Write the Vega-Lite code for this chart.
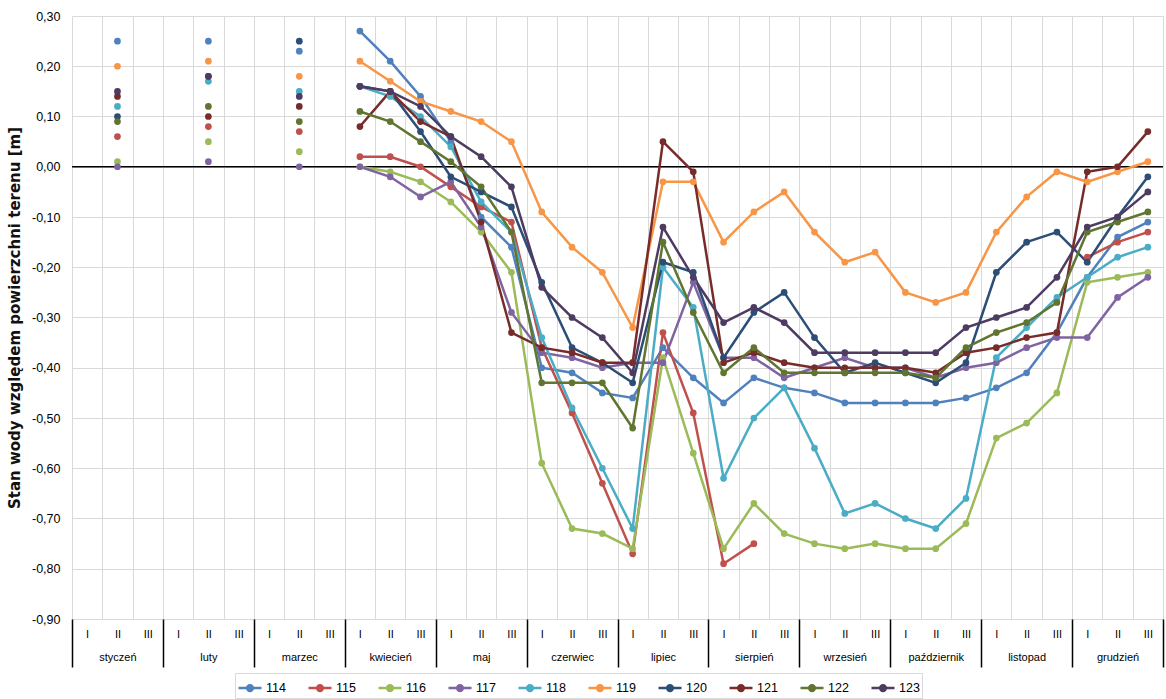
{
  "$schema": "https://vega.github.io/schema/vega-lite/v6.json",
  "width": 1091,
  "height": 603,
  "autosize": {"type": "none"},
  "padding": {"left": 72, "top": 16, "right": 3, "bottom": 80},
  "background": "white",
  "config": {"font": "Liberation Sans", "view": {"stroke": null}},
  "layer": [
    {
      "data": {"values": [{"z": 0}]},
      "mark": {"type": "rule", "color": "#000000", "strokeWidth": 1.5},
      "encoding": {"y": {"field": "z", "type": "quantitative"}}
    },
    {
      "data": {
        "values": [
          {"k": "m01d2", "114": 0.25, "115": 0.06, "116": 0.01, "117": 0.00, "118": 0.12, "119": 0.20, "120": 0.10, "121": 0.14, "122": 0.09, "123": 0.15},
          {"k": "m02d2", "114": 0.25, "115": 0.08, "116": 0.05, "117": 0.01, "118": 0.17, "119": 0.21, "120": 0.18, "121": 0.10, "122": 0.12, "123": 0.18},
          {"k": "m03d2", "114": 0.23, "115": 0.07, "116": 0.03, "117": 0.00, "118": 0.15, "119": 0.18, "120": 0.25, "121": 0.12, "122": 0.09, "123": 0.14},
          {"k": "m04d1", "114": 0.27, "115": 0.02, "116": 0.00, "117": 0.00, "118": 0.16, "119": 0.21, "120": 0.16, "121": 0.08, "122": 0.11, "123": 0.16},
          {"k": "m04d2", "114": 0.21, "115": 0.02, "116": -0.01, "117": -0.02, "118": 0.14, "119": 0.17, "120": 0.15, "121": 0.15, "122": 0.09, "123": 0.15},
          {"k": "m04d3", "114": 0.14, "115": 0.00, "116": -0.03, "117": -0.06, "118": 0.10, "119": 0.13, "120": 0.07, "121": 0.09, "122": 0.05, "123": 0.12},
          {"k": "m05d1", "114": 0.05, "115": -0.04, "116": -0.07, "117": -0.03, "118": 0.04, "119": 0.11, "120": -0.02, "121": 0.06, "122": 0.01, "123": 0.06},
          {"k": "m05d2", "114": -0.10, "115": -0.08, "116": -0.13, "117": -0.12, "118": -0.07, "119": 0.09, "120": -0.05, "121": -0.11, "122": -0.04, "123": 0.02},
          {"k": "m05d3", "114": -0.16, "115": -0.11, "116": -0.21, "117": -0.29, "118": -0.13, "119": 0.05, "120": -0.08, "121": -0.33, "122": -0.13, "123": -0.04},
          {"k": "m06d1", "114": -0.40, "115": -0.36, "116": -0.59, "117": -0.37, "118": -0.34, "119": -0.09, "120": -0.23, "121": -0.36, "122": -0.43, "123": -0.24},
          {"k": "m06d2", "114": -0.41, "115": -0.49, "116": -0.72, "117": -0.38, "118": -0.48, "119": -0.16, "120": -0.36, "121": -0.37, "122": -0.43, "123": -0.30},
          {"k": "m06d3", "114": -0.45, "115": -0.63, "116": -0.73, "117": -0.40, "118": -0.60, "119": -0.21, "120": -0.39, "121": -0.39, "122": -0.43, "123": -0.34},
          {"k": "m07d1", "114": -0.46, "115": -0.77, "116": -0.76, "117": -0.39, "118": -0.72, "119": -0.32, "120": -0.43, "121": -0.39, "122": -0.52, "123": -0.41},
          {"k": "m07d2", "114": -0.36, "115": -0.33, "116": -0.38, "117": -0.39, "118": -0.20, "119": -0.03, "120": -0.19, "121": 0.05, "122": -0.15, "123": -0.12},
          {"k": "m07d3", "114": -0.42, "115": -0.49, "116": -0.57, "117": -0.23, "118": -0.28, "119": -0.03, "120": -0.21, "121": -0.01, "122": -0.29, "123": -0.22},
          {"k": "m08d1", "114": -0.47, "115": -0.79, "116": -0.76, "117": -0.38, "118": -0.62, "119": -0.15, "120": -0.38, "121": -0.39, "122": -0.41, "123": -0.31},
          {"k": "m08d2", "114": -0.42, "115": -0.75, "116": -0.67, "117": -0.38, "118": -0.50, "119": -0.09, "120": -0.29, "121": -0.37, "122": -0.36, "123": -0.28},
          {"k": "m08d3", "114": -0.44, "115": null, "116": -0.73, "117": -0.42, "118": -0.44, "119": -0.05, "120": -0.25, "121": -0.39, "122": -0.41, "123": -0.31},
          {"k": "m09d1", "114": -0.45, "115": null, "116": -0.75, "117": -0.40, "118": -0.56, "119": -0.13, "120": -0.34, "121": -0.40, "122": -0.41, "123": -0.37},
          {"k": "m09d2", "114": -0.47, "115": null, "116": -0.76, "117": -0.38, "118": -0.69, "119": -0.19, "120": -0.41, "121": -0.40, "122": -0.41, "123": -0.37},
          {"k": "m09d3", "114": -0.47, "115": null, "116": -0.75, "117": -0.40, "118": -0.67, "119": -0.17, "120": -0.39, "121": -0.40, "122": -0.41, "123": -0.37},
          {"k": "m10d1", "114": -0.47, "115": null, "116": -0.76, "117": -0.40, "118": -0.70, "119": -0.25, "120": -0.41, "121": -0.40, "122": -0.41, "123": -0.37},
          {"k": "m10d2", "114": -0.47, "115": null, "116": -0.76, "117": -0.42, "118": -0.72, "119": -0.27, "120": -0.43, "121": -0.41, "122": -0.42, "123": -0.37},
          {"k": "m10d3", "114": -0.46, "115": null, "116": -0.71, "117": -0.40, "118": -0.66, "119": -0.25, "120": -0.39, "121": -0.37, "122": -0.36, "123": -0.32},
          {"k": "m11d1", "114": -0.44, "115": null, "116": -0.54, "117": -0.39, "118": -0.38, "119": -0.13, "120": -0.21, "121": -0.36, "122": -0.33, "123": -0.30},
          {"k": "m11d2", "114": -0.41, "115": null, "116": -0.51, "117": -0.36, "118": -0.32, "119": -0.06, "120": -0.15, "121": -0.34, "122": -0.31, "123": -0.28},
          {"k": "m11d3", "114": -0.33, "115": null, "116": -0.45, "117": -0.34, "118": -0.26, "119": -0.01, "120": -0.13, "121": -0.33, "122": -0.27, "123": -0.22},
          {"k": "m12d1", "114": -0.22, "115": -0.18, "116": -0.23, "117": -0.34, "118": -0.22, "119": -0.03, "120": -0.19, "121": -0.01, "122": -0.13, "123": -0.12},
          {"k": "m12d2", "114": -0.14, "115": -0.15, "116": -0.22, "117": -0.26, "118": -0.18, "119": -0.01, "120": -0.10, "121": 0.00, "122": -0.11, "123": -0.10},
          {"k": "m12d3", "114": -0.11, "115": -0.13, "116": -0.21, "117": -0.22, "118": -0.16, "119": 0.01, "120": -0.02, "121": 0.07, "122": -0.09, "123": -0.05}
        ]
      },
      "transform": [
        {"fold": ["114", "115", "116", "117", "118", "119", "120", "121", "122", "123"], "as": ["s", "v"]}
      ],
      "encoding": {
        "x": {
          "field": "k",
          "type": "ordinal",
          "title": null,
          "scale": {
            "type": "band",
            "paddingInner": 0,
            "paddingOuter": 0,
            "domain": ["m01d1","m01d2","m01d3","m02d1","m02d2","m02d3","m03d1","m03d2","m03d3","m04d1","m04d2","m04d3","m05d1","m05d2","m05d3","m06d1","m06d2","m06d3","m07d1","m07d2","m07d3","m08d1","m08d2","m08d3","m09d1","m09d2","m09d3","m10d1","m10d2","m10d3","m11d1","m11d2","m11d3","m12d1","m12d2","m12d3"]
          },
          "axis": {
            "domain": false,
            "grid": true,
            "gridColor": "#D9D9D9",
            "gridWidth": 1,
            "tickBand": "extent",
            "ticks": true,
            "tickSize": 48,
            "tickWidth": 1.5,
            "tickColor": {"condition": {"test": "datum.extra || (isString(datum.value) && slice(datum.value, -1) == '3')", "value": "#000000"}, "value": "rgba(0,0,0,0)"},
            "labelPadding": -39,
            "labelFontSize": 11,
            "labelColor": "#000000",
            "labelAngle": 0,
            "labelAlign": "center",
            "labelBaseline": "top",
            "labelLineHeight": 23,
            "labelOverlap": false,
            "labelBound": false,
            "labelExpr": "isString(datum.value) ? (slice(datum.value, -1) == '1' ? 'I' : (slice(datum.value, -1) == '3' ? 'III' : ['II', ['styczeń','luty','marzec','kwiecień','maj','czerwiec','lipiec','sierpień','wrzesień','październik','listopad','grudzień'][toNumber(slice(datum.value, 1, 3)) - 1]])) : ''"
          }
        },
        "y": {
          "field": "v",
          "type": "quantitative",
          "scale": {"domain": [-0.9, 0.3], "nice": false, "zero": false},
          "axis": {
            "title": "Stan wody względem powierzchni terenu [m]",
            "values": [-0.9, -0.8, -0.7, -0.6, -0.5, -0.4, -0.3, -0.2, -0.1, 0, 0.1, 0.2, 0.3],
            "grid": true,
            "gridColor": "#D9D9D9",
            "domain": false,
            "ticks": false,
            "labelPadding": 12,
            "labelFontSize": 12.5,
            "labelColor": "#000000",
            "labelExpr": "replace(replace(format(datum.value, '.2f'), '.', ','), '−', '-')",
            "titleFont": "DejaVu Sans",
            "titleFontSize": 15,
            "titleFontWeight": "bold",
            "titleColor": "#111111",
            "titlePadding": 9
          }
        },
        "color": {
          "field": "s",
          "type": "nominal",
          "scale": {
            "domain": ["114", "115", "116", "117", "118", "119", "120", "121", "122", "123"],
            "range": ["#4F81BD", "#C0504D", "#9BBB59", "#8064A2", "#4BACC6", "#F79646", "#2C4D75", "#772C2A", "#5F7530", "#4D3B62"]
          },
          "legend": {
            "title": null,
            "orient": "none",
            "legendX": 163,
            "legendY": 657,
            "direction": "horizontal",
            "columns": 10,
            "columnPadding": 17,
            "symbolType": "M-1,0H1M0.25,0A0.25,0.25,0,1,1,-0.25,0A0.25,0.25,0,1,1,0.25,0M0.1,0A0.1,0.1,0,1,1,-0.1,0A0.1,0.1,0,1,1,0.1,0",
            "symbolSize": 529,
            "symbolStrokeWidth": 2.5,
            "labelFontSize": 12.5,
            "labelOffset": 3,
            "labelColor": "#000000",
            "strokeColor": "#D9D9D9",
            "padding": 2
          }
        }
      },
      "layer": [
        {
          "transform": [{"filter": "datum.k >= 'm04'"}],
          "mark": {"type": "line", "strokeWidth": 2.5}
        },
        {
          "mark": {"type": "point", "filled": true, "size": 45, "opacity": 1}
        }
      ]
    }
  ]
}
